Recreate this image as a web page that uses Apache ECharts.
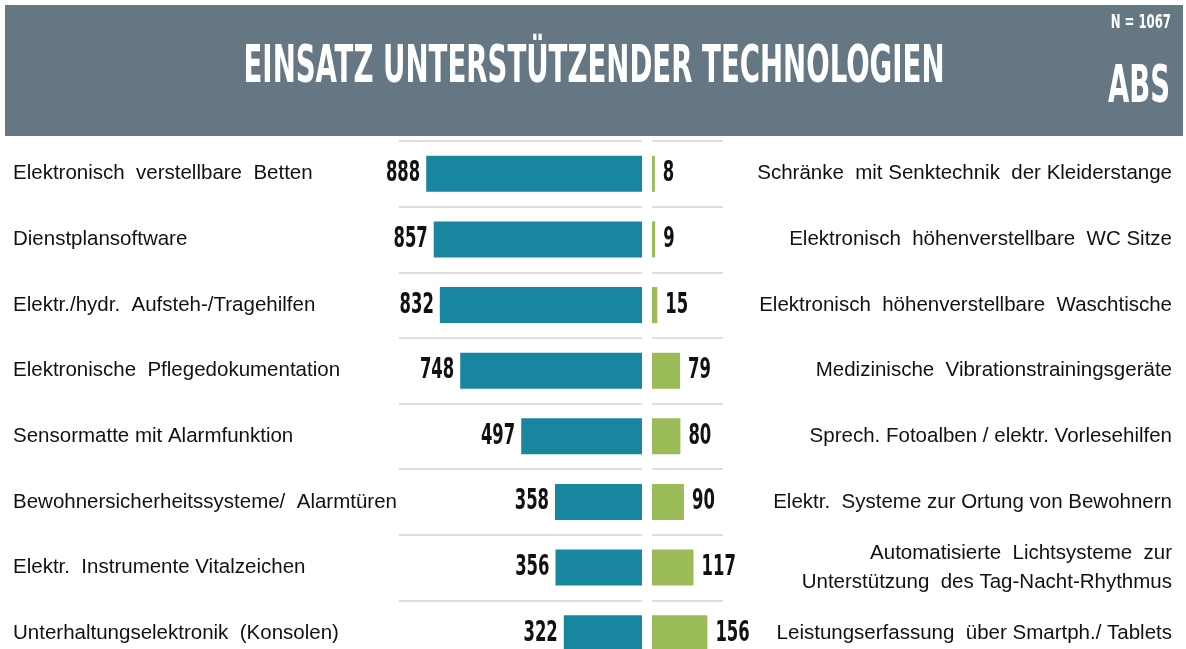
<!DOCTYPE html>
<html>
<head>
<meta charset="utf-8">
<script src="https://cdn.jsdelivr.net/npm/echarts@6/dist/echarts.min.js"></script>
<style>
  html, body { margin: 0; padding: 0; background: #fff; }
  #main { width: 1186px; height: 649px; }
</style>
</head>
<body>
<div id="main"></div>
<script>
// linke Seite: am häufigsten eingesetzt
var leftNames = [
  'Elektronisch  verstellbare  Betten',
  'Dienstplansoftware',
  'Elektr./hydr.  Aufsteh-/Tragehilfen',
  'Elektronische  Pflegedokumentation',
  'Sensormatte mit Alarmfunktion',
  'Bewohnersicherheitssysteme/  Alarmtüren',
  'Elektr.  Instrumente Vitalzeichen',
  'Unterhaltungselektronik  (Konsolen)'
];
var leftValues = [888, 857, 832, 748, 497, 358, 356, 322];

// rechte Seite: am seltensten eingesetzt
var rightNames = [
  'Schränke  mit Senktechnik  der Kleiderstange',
  'Elektronisch  höhenverstellbare  WC Sitze',
  'Elektronisch  höhenverstellbare  Waschtische',
  'Medizinische  Vibrationstrainingsgeräte',
  'Sprech. Fotoalben / elektr. Vorlesehilfen',
  'Elektr.  Systeme zur Ortung von Bewohnern',
  'Automatisierte  Lichtsysteme  zur\nUnterstützung  des Tag-Nacht-Rhythmus',
  'Leistungserfassung  über Smartph./ Tablets'
];
var rightValues = [8, 9, 15, 79, 80, 90, 117, 156];

var titleText = 'EINSATZ UNTERSTÜTZENDER TECHNOLOGIEN';
var nText = 'N = 1067';
var absText = 'ABS';

var narrow = '"Liberation Sans Narrow", "DejaVu Sans Condensed", sans-serif';
var sans = '"Liberation Sans", Arial, sans-serif';

var myChart = echarts.init(document.getElementById('main'));

// Zahlen neben den Balken, schmal gezogen wie im Original
function valueLabel(side) {
  return function (params, api) {
    var p = api.coord([api.value(0), api.value(1)]);
    return {
      type: 'text',
      x: side === 'left' ? p[0] - 6 : p[0] + 8,
      y: p[1],
      scaleX: 0.63,
      style: {
        text: String(api.value(0)),
        font: 'bold 29px ' + narrow,
        fill: '#111',
        textAlign: side === 'left' ? 'right' : 'left',
        textVerticalAlign: 'middle'
      }
    };
  };
}

var option = {
  animation: false,
  graphic: [
    {
      type: 'rect',
      shape: { x: 5, y: 5, width: 1178, height: 131 },
      style: { fill: '#667784' },
      silent: true
    },
    {
      type: 'text',
      x: 594, y: 68,
      scaleX: 0.59,
      style: {
        text: titleText, fill: '#fff',
        font: 'bold 52px ' + narrow,
        textAlign: 'center', textVerticalAlign: 'middle'
      }
    },
    {
      type: 'text',
      x: 1171, y: 23,
      scaleX: 0.65,
      style: {
        text: nText, fill: '#fff',
        font: 'bold 20px ' + narrow,
        textAlign: 'right', textVerticalAlign: 'middle'
      }
    },
    {
      type: 'text',
      x: 1170, y: 89,
      scaleX: 0.6,
      style: {
        text: absText, fill: '#fff',
        font: 'bold 51px ' + narrow,
        textAlign: 'right', textVerticalAlign: 'middle'
      }
    }
  ],
  grid: [
    { left: 399, width: 243, top: 141, height: 525, outerBoundsMode: 'none', containLabel: false },
    { left: 652, width: 71, top: 141, height: 525, outerBoundsMode: 'none', containLabel: false }
  ],
  xAxis: [
    { gridIndex: 0, type: 'value', min: 0, max: 1000, inverse: true, show: false },
    { gridIndex: 1, type: 'value', min: 0, max: 200, show: false }
  ],
  yAxis: [
    {
      gridIndex: 0, type: 'category', inverse: true, data: leftNames,
      axisLine: { show: false }, axisTick: { show: false },
      splitLine: { show: true, lineStyle: { color: '#d3d3d3', width: 1.5 } },
      axisLabel: {
        align: 'left', margin: 386,
        fontFamily: sans, fontSize: 20.5, color: '#111'
      }
    },
    {
      gridIndex: 1, type: 'category', inverse: true, data: rightNames,
      position: 'right',
      axisLine: { show: false }, axisTick: { show: false },
      splitLine: { show: true, lineStyle: { color: '#d3d3d3', width: 1.5 } },
      axisLabel: {
        align: 'right', margin: 449, lineHeight: 29,
        fontFamily: sans, fontSize: 20.5, color: '#111'
      }
    }
  ],
  series: [
    {
      type: 'bar', xAxisIndex: 0, yAxisIndex: 0,
      data: leftValues, barWidth: 36,
      itemStyle: { color: '#18869f' }
    },
    {
      type: 'bar', xAxisIndex: 1, yAxisIndex: 1,
      data: rightValues, barWidth: 36,
      itemStyle: { color: '#9bbb59' }
    },
    {
      type: 'custom', xAxisIndex: 0, yAxisIndex: 0,
      data: leftValues.map(function (v, i) { return [v, i]; }),
      encode: { x: 0, y: 1 },
      renderItem: valueLabel('left'),
      silent: true
    },
    {
      type: 'custom', xAxisIndex: 1, yAxisIndex: 1,
      data: rightValues.map(function (v, i) { return [v, i]; }),
      encode: { x: 0, y: 1 },
      renderItem: valueLabel('right'),
      silent: true
    }
  ]
};

myChart.setOption(option);
</script>
</body>
</html>
